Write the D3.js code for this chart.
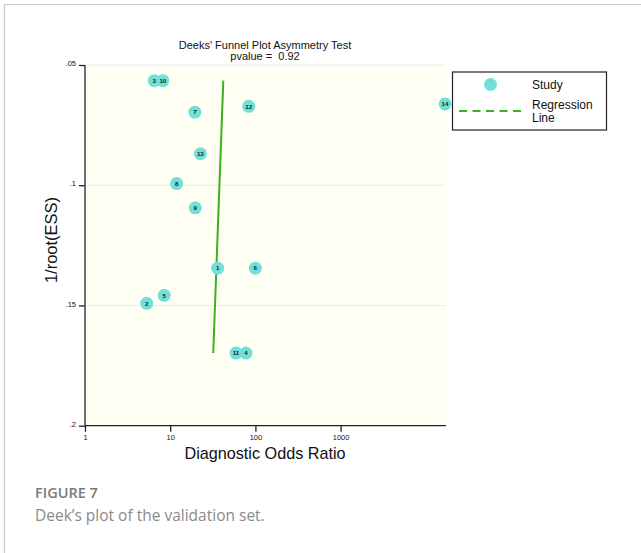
<!DOCTYPE html>
<html>
<head>
<meta charset="utf-8">
<script src="https://cdn.jsdelivr.net/npm/d3@7"></script>
<style>
  html, body { margin: 0; padding: 0; background: #fff; }
  svg { display: block; }
</style>
</head>
<body>
<svg id="chart" width="641" height="553"></svg>
<script>
// Study identifiers, diagnostic odds ratios and 1/sqrt(effective sample size)
const studyIds = ["1", "2", "3", "4", "5", "6", "7", "8", "9", "10", "11", "12", "13", "14"];
const dorValues = [36.1, 5.3, 6.5, 77.6, 8.5, 99.8, 19.5, 11.9, 19.7, 8.2, 59.2, 83.4, 22.6, 16800];
const invRootEss = [0.1345, 0.1491, 0.0565, 0.1698, 0.1458, 0.1345, 0.0696, 0.0993, 0.1094, 0.0565, 0.1698, 0.0672, 0.0869, 0.0662];

// Fitted regression line, evaluated at the smallest and largest 1/root(ESS)
const regY = [0.0565, 0.1698];
const regDor = [42.0, 32.0];

const xTicks = [1, 10, 100, 1000];
const xTickLabels = ["1", "10", "100", "1000"];
const yTicks = [0.05, 0.1, 0.15, 0.2];
const yTickLabels = [".05", ".1", ".15", ".2"];

const pValue = "0.92";

const svg = d3.select("#chart");
const font = "Helvetica, Arial, 'Liberation Sans', sans-serif";

// panel frame
svg.append("path")
  .attr("d", "M4.5,553 L4.5,4.5 L641,4.5")
  .attr("fill", "none").attr("stroke", "#c8c8c8").attr("stroke-width", 1.2);

const plotL = 85, plotR = 446, plotT = 65, plotB = 425.7;

const x = d3.scaleLog().domain([1, 16800]).range([plotL, 445]);
const y = d3.scaleLinear().domain([0.05, 0.2]).range([plotT, plotB]);

// plot region background
svg.append("rect")
  .attr("x", plotL + 1).attr("y", plotT)
  .attr("width", plotR - plotL - 1).attr("height", plotB - plotT)
  .attr("fill", "#fffff4");

// horizontal grid lines
svg.append("g").selectAll("line")
  .data(yTicks.slice(0, 3))
  .join("line")
  .attr("x1", plotL + 1).attr("x2", plotR)
  .attr("y1", d => y(d)).attr("y2", d => y(d))
  .attr("stroke", "#e6eef4").attr("stroke-width", 1);

// y axis
const yAxis = d3.axisLeft(y)
  .tickValues(yTicks)
  .tickFormat((d, i) => yTickLabels[i])
  .tickSize(6).tickPadding(3);
const gy = svg.append("g").attr("transform", `translate(${plotL},0)`).call(yAxis);
gy.select(".domain").attr("stroke", "#222").attr("stroke-width", 1.3).attr("d", `M0,${plotT}V${plotB}`);
gy.selectAll(".tick line").attr("stroke", "#222").attr("stroke-width", 1.3);
gy.selectAll(".tick text").attr("font-family", font).attr("font-size", 7.5).attr("fill", "#111").attr("dy", "0.1em");

// x axis
const xAxis = d3.axisBottom(x)
  .tickValues(xTicks)
  .tickFormat((d, i) => xTickLabels[i])
  .tickSize(6).tickPadding(3);
const gx = svg.append("g").attr("transform", `translate(0,${plotB})`).call(xAxis);
gx.select(".domain").attr("stroke", "#222").attr("stroke-width", 1.3).attr("d", `M${plotL},0H${plotR}`);
gx.selectAll(".tick line").attr("stroke", "#222").attr("stroke-width", 1.3);
gx.selectAll(".tick text").attr("font-family", font).attr("font-size", 7.5).attr("fill", "#111");

// axis titles
svg.append("text")
  .attr("x", 265).attr("y", 458.5)
  .attr("text-anchor", "middle")
  .attr("font-family", font).attr("font-size", 16.2).attr("fill", "#111")
  .text("Diagnostic Odds Ratio");

svg.append("text")
  .attr("transform", "translate(57,240) rotate(-90)")
  .attr("text-anchor", "middle")
  .attr("font-family", font).attr("font-size", 16.5).attr("fill", "#111")
  .text("1/root(ESS)");

// chart title
svg.append("text")
  .attr("x", 265).attr("y", 48.5)
  .attr("text-anchor", "middle")
  .attr("font-family", font).attr("font-size", 11).attr("fill", "#111")
  .text("Deeks' Funnel Plot Asymmetry Test");
svg.append("text")
  .attr("x", 265).attr("y", 60)
  .attr("text-anchor", "middle")
  .attr("font-family", font).attr("font-size", 11).attr("fill", "#111")
  .text("pvalue =\u00a0\u00a0" + pValue);

const pointColor = "#72e0d9";
const lineColor = "#3cb022";

// regression line
svg.append("line")
  .attr("x1", x(regDor[0])).attr("y1", y(regY[0]))
  .attr("x2", x(regDor[1])).attr("y2", y(regY[1]))
  .attr("stroke", lineColor).attr("stroke-width", 2);

// study markers
const studies = studyIds.map((id, i) => ({ id, dor: dorValues[i], v: invRootEss[i] }));
const pts = svg.append("g").selectAll("g")
  .data(studies)
  .join("g")
  .attr("transform", d => `translate(${x(d.dor)},${y(d.v)})`);
pts.append("circle").attr("r", 6.5).attr("fill", pointColor);
pts.append("text")
  .attr("text-anchor", "middle").attr("dy", "0.36em")
  .attr("font-family", font).attr("font-size", 6.2).attr("font-weight", "bold")
  .attr("fill", "#1a1a1a")
  .text(d => d.id);

// legend
const lg = svg.append("g");
lg.append("rect")
  .attr("x", 452.5).attr("y", 72).attr("width", 154).attr("height", 58)
  .attr("fill", "#fff").attr("stroke", "#222").attr("stroke-width", 1.2);
lg.append("circle").attr("cx", 490.5).attr("cy", 84.5).attr("r", 6.5).attr("fill", pointColor);
lg.append("text").attr("x", 532).attr("y", 89)
  .attr("font-family", font).attr("font-size", 12).attr("fill", "#111").text("Study");
lg.append("line")
  .attr("x1", 459).attr("x2", 523).attr("y1", 111).attr("y2", 111)
  .attr("stroke", lineColor).attr("stroke-width", 2).attr("stroke-dasharray", "8,5.5");
lg.append("text").attr("x", 532).attr("y", 109)
  .attr("font-family", font).attr("font-size", 12).attr("fill", "#111").text("Regression");
lg.append("text").attr("x", 532).attr("y", 121.5)
  .attr("font-family", font).attr("font-size", 12).attr("fill", "#111").text("Line");

// caption
svg.append("text")
  .attr("x", 35).attr("y", 497.5)
  .attr("font-family", "'Open Sans', Lato, sans-serif").attr("font-size", 14.5)
  .attr("font-weight", 600).attr("fill", "#7a7a7a")
  .text("FIGURE 7");
svg.append("text")
  .attr("x", 35).attr("y", 521)
  .attr("font-family", "'Open Sans', Lato, sans-serif").attr("font-size", 15.5)
  .attr("fill", "#8a8a8a")
  .text("Deek\u2019s plot of the validation set.");
</script>
</body>
</html>
